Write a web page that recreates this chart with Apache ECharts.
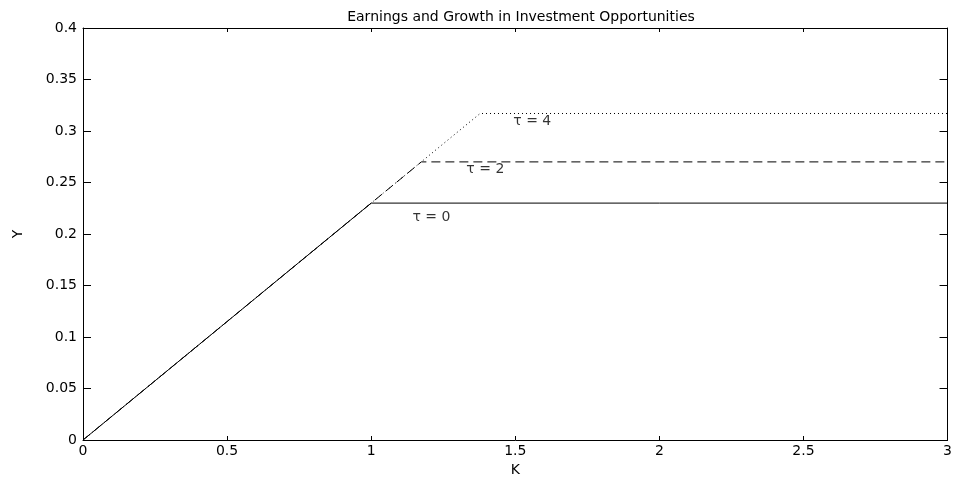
<!DOCTYPE html>
<html>
<head>
<meta charset="utf-8">
<script src="https://cdn.jsdelivr.net/npm/echarts@6/dist/echarts.min.js"></script>
<style>html,body{margin:0;padding:0;background:#fff}#c{width:955px;height:482px}</style>
</head>
<body>
<div id="c"></div>
<script>
// Data
const kTau0 = [0, 1.0, 3];
const yTau0 = [0, 0.23, 0.23];
const kTau2 = [0, 1.174, 3];
const yTau2 = [0, 0.27, 0.27];
const kTau4 = [0, 1.378, 3];
const yTau4 = [0, 0.317, 0.317];
const labelText = ['τ = 0', 'τ = 2', 'τ = 4'];
const labelK = [1.209, 1.396, 1.559];
const labelY = [0.216, 0.263, 0.309];
const xTicks = [0, 0.5, 1, 1.5, 2, 2.5, 3];
const yTicks = [0, 0.05, 0.1, 0.15, 0.2, 0.25, 0.3, 0.35, 0.4];

const FONT = 'DejaVu Sans';
const FS = 14;
const zip = (a, b) => a.map((v, i) => [v, b[i]]);

const chart = echarts.init(document.getElementById('c'), null, {renderer: 'canvas'});
const axisCommon = {
  axisLine: {show: true, onZero: false, lineStyle: {color: '#000', width: 1}},
  splitLine: {show: false}
};
chart.setOption({
  animation: false,
  backgroundColor: '#fff',
  title: {
    text: 'Earnings and Growth in Investment Opportunities',
    left: 516, textAlign: 'center', top: 5,
    textStyle: {fontFamily: FONT, fontSize: FS, fontWeight: 'normal', color: '#000'}
  },
  grid: {left: 83, right: 6, top: 28, bottom: 36},
  xAxis: [
    Object.assign({}, axisCommon, {
      type: 'value', min: 0, max: 3, interval: 0.5, position: 'bottom',
      name: 'K', nameLocation: 'middle', nameGap: 23,
      nameTextStyle: {fontFamily: FONT, fontSize: FS, color: '#000'},
      axisTick: {show: true, inside: true, length: 4, lineStyle: {color: '#000'}},
      axisLabel: {fontFamily: FONT, fontSize: FS, color: '#000', margin: 4,
        formatter: v => String(v)}
    }),
    Object.assign({}, axisCommon, {
      type: 'value', min: 0, max: 3, interval: 0.5, position: 'top',
      axisTick: {show: true, inside: true, length: 4, lineStyle: {color: '#000'}},
      axisLabel: {show: false}
    })
  ],
  yAxis: [
    Object.assign({}, axisCommon, {
      type: 'value', min: 0, max: 0.4, interval: 0.05, position: 'left',
      name: 'Y', nameLocation: 'middle', nameGap: 58,
      nameTextStyle: {fontFamily: FONT, fontSize: FS, color: '#000'},
      axisTick: {show: true, inside: true, length: 8, lineStyle: {color: '#000'}},
      axisLabel: {fontFamily: FONT, fontSize: FS, color: '#000', margin: 6,
        formatter: v => String(Math.round(v * 100) / 100)}
    }),
    Object.assign({}, axisCommon, {
      type: 'value', min: 0, max: 0.4, interval: 0.05, position: 'right',
      axisTick: {show: true, inside: true, length: 8, lineStyle: {color: '#000'}},
      axisLabel: {show: false}
    })
  ],
  series: [
    {type: 'line', name: 'tau4', data: zip(kTau4, yTau4), showSymbol: false, symbol: 'none',
      lineStyle: {color: '#000', width: 1, type: [1, 3]}, z: 2},
    {type: 'line', name: 'tau2', data: zip(kTau2, yTau2), showSymbol: false, symbol: 'none',
      lineStyle: {color: '#000', width: 1, type: [9, 5]}, z: 3},
    {type: 'line', name: 'tau0', data: zip(kTau0, yTau0), showSymbol: false, symbol: 'none',
      lineStyle: {color: '#000', width: 1, type: 'solid'}, z: 4},
    {type: 'scatter', name: 'labels', symbolSize: 0,
      data: labelK.map((k, i) => ({value: [k, labelY[i]], name: labelText[i]})),
      label: {show: true, position: 'inside', formatter: p => p.name,
        fontFamily: FONT, fontSize: FS, color: '#000'},
      silent: true, z: 5}
  ]
});
</script>
</body>
</html>
